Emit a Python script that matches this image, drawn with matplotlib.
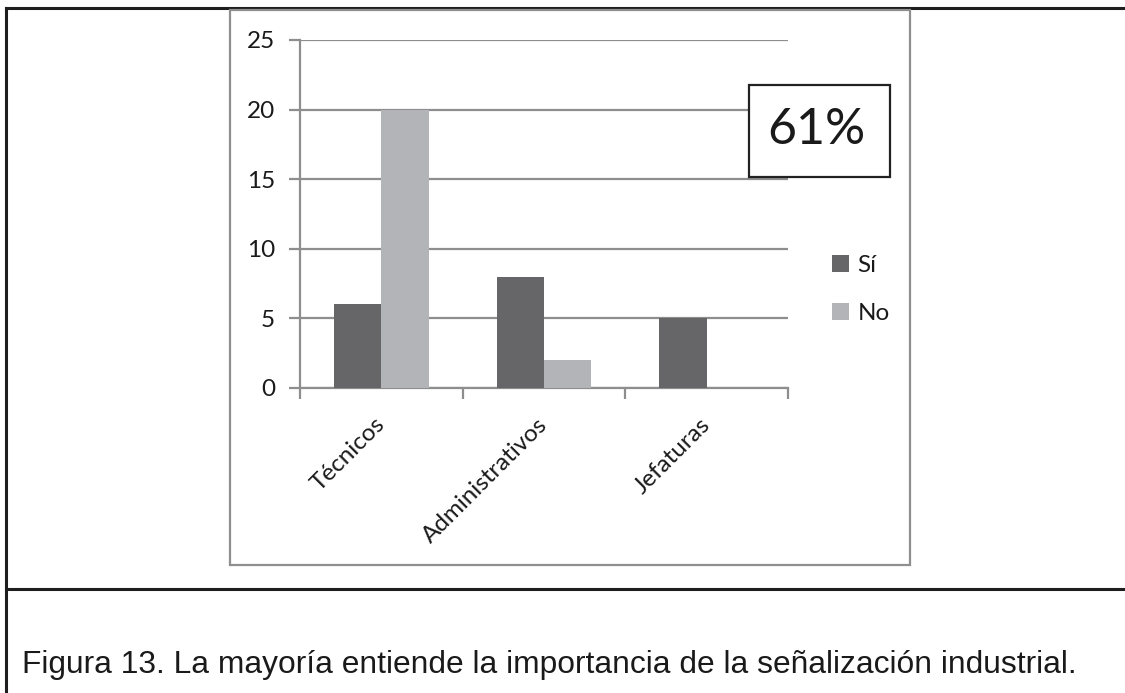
import matplotlib
matplotlib.use("Agg")
import matplotlib.pyplot as plt
import numpy as np
from matplotlib.patches import Rectangle
from matplotlib.lines import Line2D

categories = ["Técnicos", "Administrativos", "Jefaturas"]
si_values = [6, 8, 5]
no_values = [20, 2, 0]
series_names = ["Sí", "No"]
y_ticks = [0, 5, 10, 15, 20, 25]
badge_text = "61%"
caption = "Figura 13. La mayoría entiende la importancia de la señalización industrial."

W, H = 1125, 693
fig = plt.figure(figsize=(W / 100, H / 100), dpi=100)
fig.patch.set_facecolor("white")

def fx(px):
    return px / W

def fy(py):
    return 1 - py / H

# axes placement
ax_left, ax_right, ax_top, ax_bottom = 300, 788, 40, 388
ax = fig.add_axes([fx(ax_left), fy(ax_bottom), fx(ax_right - ax_left), (ax_bottom - ax_top) / H])

dark = "#666668"
light = "#b3b4b7"
grid_c = "#8e8e8e"
chart_font = "Lato"

x = np.arange(len(categories))
w = 0.29
ax.bar(x - w / 2, si_values, width=w, color=dark, label=series_names[0], zorder=3)
ax.bar(x + w / 2, no_values, width=w, color=light, label=series_names[1], zorder=3)

ax.set_xlim(-0.5, len(categories) - 0.5)
ax.set_ylim(0, 25)
ax.set_yticks(y_ticks)
ax.yaxis.grid(True, color=grid_c, linewidth=1.6, zorder=0)
ax.set_axisbelow(True)

for s in ["top", "right"]:
    ax.spines[s].set_visible(False)
for s in ["left", "bottom"]:
    ax.spines[s].set_color(grid_c)
    ax.spines[s].set_linewidth(1.6)

ax.tick_params(axis="y", direction="out", length=8, width=1.6, color=grid_c,
               labelsize=17.5, pad=10, labelcolor="#1a1a1a")
for lab in ax.get_yticklabels():
    lab.set_fontfamily(chart_font)

ax.set_xticks(np.arange(-0.5, len(categories), 1.0))
ax.set_xticklabels([])
ax.tick_params(axis="x", which="major", direction="out", length=8, width=1.6, color=grid_c)
ax.set_xticks(x, minor=True)
ax.set_xticklabels(categories, minor=True, rotation=45, ha="right", va="center",
                   rotation_mode="anchor", fontsize=17.5, fontfamily=chart_font, color="#1a1a1a")
ax.tick_params(axis="x", which="minor", length=0, pad=24)

leg = ax.legend(loc="center left", bbox_to_anchor=(1.045, 0.283), frameon=False,
                handlelength=0.7, handleheight=0.7, handletextpad=0.35,
                labelspacing=1.1, prop={"family": chart_font, "size": 17.5})
for t in leg.get_texts():
    t.set_color("#1a1a1a")

# chart outer box (gray)
fig.add_artist(Rectangle((fx(230), fy(565)), fx(910 - 230), (565 - 10) / H,
                         transform=fig.transFigure, fill=False, ec="#8f8f8f", lw=1.6, zorder=5))

# badge box
fig.add_artist(Rectangle((fx(749), fy(177)), fx(890 - 749), (177 - 85) / H,
                         transform=fig.transFigure, facecolor="white", ec="#222222", lw=1.6, zorder=6))
fig.text(fx(816), fy(130), badge_text, ha="center", va="center", fontsize=36,
         fontfamily=chart_font, color="#1a1a1a", zorder=7)

# table lines
lc = "#1e1e1e"
fig.add_artist(Line2D([fx(6), 1], [fy(8), fy(8)], transform=fig.transFigure, color=lc, lw=2.2))
fig.add_artist(Line2D([fx(6), fx(6)], [fy(8), 0], transform=fig.transFigure, color=lc, lw=2.2))
fig.add_artist(Line2D([fx(6), 1], [fy(589), fy(589)], transform=fig.transFigure, color=lc, lw=2.2))

fig.text(fx(22), fy(673), caption, ha="left", va="baseline", fontsize=22.9,
         fontfamily="Liberation Sans", color="#1a1a1a")

fig.savefig("out.png", dpi=100, facecolor="white")
